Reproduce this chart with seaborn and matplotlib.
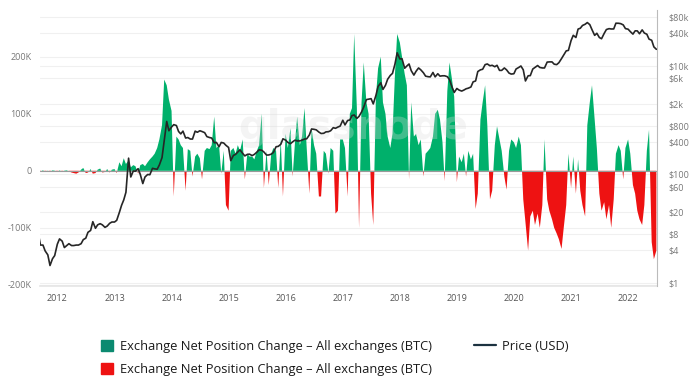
import numpy as np
import pandas as pd
import matplotlib
matplotlib.use("Agg")
import matplotlib.pyplot as plt
import matplotlib.dates as mdates
from matplotlib.patches import Patch
from matplotlib.lines import Line2D
from matplotlib.transforms import blended_transform_factory
import seaborn as sns

# semi-monthly samples (1st and 15th), Sep 2011 -> Jul 2022
dates = pd.date_range("2011-09-01", "2022-07-01", freq="SMS")

# exchange net position change, thousands of BTC
net_2011 = [0.5, -0.5, 1, -1, 0.5, -1, 1, 0.5]
net_2012 = [-2, 1, -1, 0.5, 1, -0.5, -3, -4, -5, -3, 2, 5, -4, -3, 3, -5, -4, 2, 4, -3, -2, 3, -3, 2]
net_2013 = [3, -4, 15, 8, 22, 12, 18, 6, 10, 8, -5, 10, 12, 8, 15, 20, 25, 30, 40, 55, 80, 160, 150, 125]
net_2014 = [105, -45, 60, 55, 45, 40, -35, 38, 35, -10, 25, 30, 22, -15, 35, 40, 38, 45, 95, 40, 45, -5, 35, -60]
net_2015 = [-70, 35, 40, 30, 45, 35, 55, -15, 30, 25, 25, 20, 35, 45, 100, -30, 35, -25, 30, 40, 35, -30, 55, -45]
net_2016 = [65, 40, 75, -10, 50, 95, 45, 60, 110, 40, -40, 75, 45, 30, -45, -45, 35, 30, -5, 40, 35, -75, -70, 55]
net_2017 = [55, 40, -45, 100, 110, 240, 110, -100, 120, 190, 120, 100, -40, -95, 130, 180, 200, 120, 100, 60, 40, 65, 170, 240]
net_2018 = [225, 200, 170, 150, -15, 120, 60, 65, 45, 55, -10, 30, 35, 40, 60, 100, 107, 90, 50, -18, 140, 190, 160, 130]
net_2019 = [-20, 25, 15, 30, -10, 35, 20, 30, -67, -40, 90, 120, 150, 80, -50, -35, 45, 78, 55, 35, -10, -33, 35, 55]
net_2020 = [50, 40, 60, 45, -50, -90, -140, -80, -70, -95, -75, -100, -60, 55, -50, -70, -85, -100, -110, -120, -137, -100, -60, 30]
net_2021 = [-30, 25, -40, 20, -35, -60, -80, 80, 120, 150, 90, 40, -40, -70, -55, -85, -60, -100, -50, 30, 45, 35, -15, 40]
net_2022 = [55, 30, -25, -40, -70, -85, -95, -60, 35, 72, -125, -155, -140]

# BTC price, USD
price_2011 = [8.2, 5.0, 5.0, 3.9, 3.3, 2.1, 2.8, 3.2]
price_2012 = [5.2, 6.5, 5.9, 4.5, 4.9, 5.3, 4.9, 4.9, 5.0, 5.0, 5.3, 6.3, 6.7, 8.6, 9.3, 13.5, 10.2, 11.8, 12.4, 11.8, 10.6, 11.2, 12.6, 13.3]
price_2013 = [13.3, 14.3, 20, 27, 34, 47, 200, 90, 116, 115, 128, 100, 68, 90, 100, 99, 130, 127, 125, 150, 205, 420, 950, 640]
price_2014 = [750, 830, 800, 620, 560, 630, 470, 480, 450, 450, 630, 600, 640, 620, 590, 500, 480, 470, 385, 390, 325, 390, 380, 345]
price_2015 = [315, 180, 225, 235, 260, 285, 245, 220, 235, 237, 223, 235, 258, 285, 280, 260, 228, 229, 237, 255, 325, 330, 360, 455]
price_2016 = [430, 390, 370, 400, 430, 415, 416, 430, 450, 455, 535, 690, 680, 665, 605, 570, 575, 610, 615, 640, 730, 710, 750, 780]
price_2017 = [1000, 820, 990, 1010, 1220, 1250, 1080, 1180, 1420, 1750, 2400, 2450, 2500, 2000, 2870, 4200, 4900, 3700, 4400, 5700, 6700, 7300, 10900, 17500]
price_2018 = [13500, 13600, 9100, 10000, 10900, 8200, 6800, 8000, 9200, 8500, 7500, 6500, 6350, 6300, 7600, 6300, 7200, 6500, 6600, 6600, 6350, 5600, 4100, 3250]
price_2019 = [3850, 3600, 3450, 3600, 3800, 3900, 4100, 5100, 5300, 7900, 8500, 8700, 10600, 10900, 10100, 10300, 9700, 10300, 8300, 8300, 9200, 8500, 7400, 7100]
price_2020 = [7200, 8800, 9400, 10000, 8500, 5300, 6600, 6650, 8800, 9400, 10200, 9400, 9200, 9200, 11800, 11900, 11900, 10800, 10600, 11500, 13700, 16000, 19000, 19400]
price_2021 = [29400, 36800, 33500, 48000, 49600, 55800, 58800, 63200, 57800, 46700, 36700, 40100, 33500, 31800, 39900, 47000, 48800, 48100, 48200, 61500, 61300, 60300, 57200, 48900]
price_2022 = [47700, 43100, 38700, 44500, 44400, 39300, 46300, 40500, 38500, 31300, 29800, 22500, 20300]

net = np.array(net_2011 + net_2012 + net_2013 + net_2014 + net_2015 + net_2016
               + net_2017 + net_2018 + net_2019 + net_2020 + net_2021 + net_2022) * 1000
price = (price_2011 + price_2012 + price_2013 + price_2014 + price_2015 + price_2016
         + price_2017 + price_2018 + price_2019 + price_2020 + price_2021 + price_2022)

df = pd.DataFrame({"date": dates, "net": net, "price": price})

left_ticks = [-200000, -100000, 0, 100000, 200000]
left_labels = ["-200K", "-100K", "0", "100K", "200K"]
right_ticks = [1, 4, 8, 20, 60, 100, 400, 800, 2000, 6000, 10000, 40000, 80000]
right_labels = ["$1", "$4", "$8", "$20", "$60", "$100", "$400", "$800", "$2k", "$6k", "$10k", "$40k", "$80k"]

green = "#00b06b"
red = "#ee1212"
grid_c = "#f0f0f0"
tick_c = "#777777"

sns.set_theme(style="white")
plt.rcParams["font.family"] = ["Open Sans", "DejaVu Sans"]

fig = plt.figure(figsize=(6.93, 3.86), dpi=100)
ax = fig.add_axes([40 / 693, 1 - 286 / 386, 617 / 693, 276 / 386])
ax2 = ax.twinx()

# net position change as filled areas above / below zero
ax.fill_between(df["date"], df["net"], 0, where=df["net"] >= 0, interpolate=True,
                color=green, lw=0, zorder=2)
ax.fill_between(df["date"], df["net"], 0, where=df["net"] <= 0, interpolate=True,
                color=red, lw=0, zorder=2)
ax.axhline(0, color="#999999", lw=0.8, zorder=2.5)
ax.set_ylim(-202000, 282000)
ax.set_yticks(left_ticks)
ax.set_yticklabels(left_labels)
ax.set_axisbelow(True)
ax.grid(axis="y", color=grid_c, lw=0.8)
ax.grid(axis="x", visible=False)

# gridlines for the price scale, drawn underneath the areas
tr = blended_transform_factory(ax.transAxes, ax2.transData)
for p in right_ticks:
    ax.add_line(Line2D([0, 1], [p, p], transform=tr, color=grid_c, lw=0.8, zorder=0))

# price
sns.lineplot(data=df, x="date", y="price", ax=ax2, color="#262626", lw=1.2, zorder=5)
ax2.set_yscale("log")
ax2.set_ylim(0.88, 107700)
ax2.set_yticks(right_ticks)
ax2.set_yticklabels(right_labels)
ax2.minorticks_off()
ax2.set_ylabel("")
ax.set_xlabel("")
ax2.set_xlabel("")

ax.text(0.507, 0.572, "glassnode", transform=ax.transAxes, ha="center", va="center",
        fontsize=29, fontweight="bold", color="#dcdcdc", alpha=0.3, zorder=3,
        family="DejaVu Sans")

ax.set_xlim(pd.Timestamp("2011-09-12"), pd.Timestamp("2022-07-05"))
ax.xaxis.set_major_locator(mdates.YearLocator())
ax.xaxis.set_major_formatter(mdates.DateFormatter("%Y"))

for a in (ax, ax2):
    for s in ("top", "left", "right", "bottom"):
        a.spines[s].set_visible(False)
ax2.spines["right"].set_visible(True)
ax2.spines["right"].set_color("#bbbbbb")
ax2.spines["right"].set_linewidth(0.8)
ax.spines["bottom"].set_visible(True)
ax.spines["bottom"].set_color("#e6e6e6")

ax.tick_params(axis="y", length=0, labelsize=6.5, labelcolor=tick_c, pad=6)
ax2.tick_params(axis="y", length=0, labelsize=6.5, labelcolor=tick_c, pad=8)
ax.tick_params(axis="x", length=3, color="#dddddd", labelsize=6.5, labelcolor="#555555", pad=3)

h1 = [Patch(color="#0b8a70", label="Exchange Net Position Change – All exchanges (BTC)"),
      Patch(color=red, label="Exchange Net Position Change – All exchanges (BTC)")]
fig.legend(handles=h1, loc="upper left", bbox_to_anchor=(101 / 693, 1 - 340 / 386),
           frameon=False, fontsize=9.3, handlelength=0.95, handleheight=0.95,
           handletextpad=0.55, labelspacing=0.75, borderpad=0, borderaxespad=0,
           labelcolor="#1a1a1a")
h2 = [Line2D([], [], color="#1c3240", lw=1.6, label="Price (USD)")]
fig.legend(handles=h2, loc="upper left", bbox_to_anchor=(474 / 693, 1 - 340 / 386),
           frameon=False, fontsize=9.3, handlelength=1.7, handletextpad=0.45,
           borderpad=0, borderaxespad=0, labelcolor="#1a1a1a")

fig.savefig("out.png", dpi=100)
